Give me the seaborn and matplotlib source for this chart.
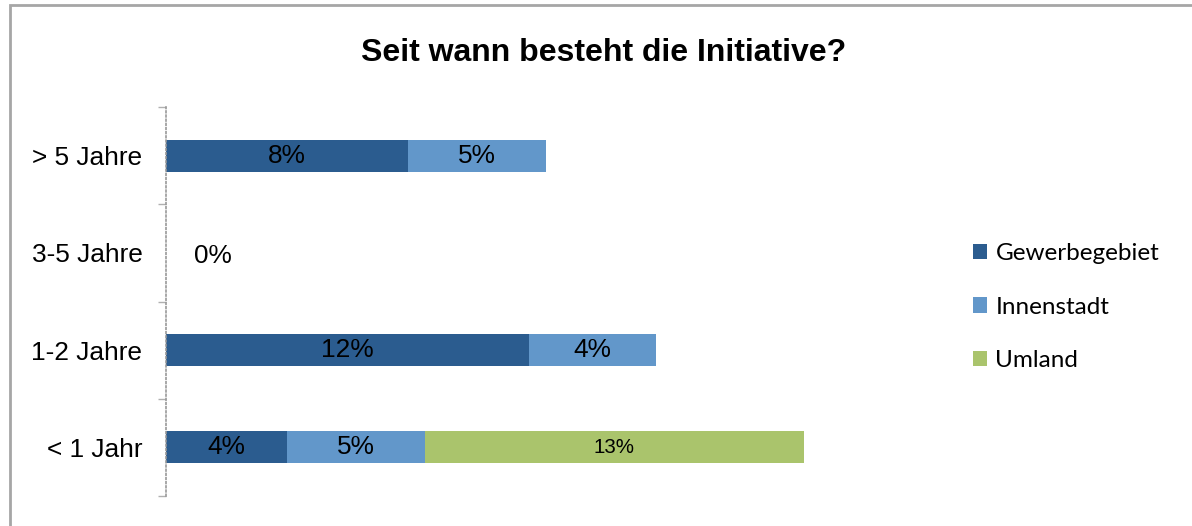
import matplotlib
matplotlib.use("Agg")
import matplotlib.pyplot as plt
import seaborn as sns
import numpy as np
import pandas as pd
from matplotlib.patches import Patch, Rectangle

# ---- data ----
categories = ["> 5 Jahre", "3-5 Jahre", "1-2 Jahre", "< 1 Jahr"]
series = ["Gewerbegebiet", "Innenstadt", "Umland"]
gewerbegebiet = [8.0, 0.0, 12.0, 4.0]
innenstadt = [4.56, 0.0, 4.2, 4.56]
umland = [0.0, 0.0, 0.0, 12.53]
colors = ["#2B5C8F", "#6297CA", "#AAC46C"]
title = "Seit wann besteht die Initiative?"

sns.set_theme(style="white")
plt.rcParams["font.family"] = ["Liberation Sans", "DejaVu Sans"]

fig = plt.figure(figsize=(11.92, 5.26), dpi=100)
ax = fig.add_axes([166 / 1192, 30 / 526, 756 / 1192, 389 / 526])

values = [gewerbegebiet, innenstadt, umland]
left = np.zeros(len(categories))
for name, vals, col in zip(series, values, colors):
    df = pd.DataFrame({"Kategorie": categories, "Anteil": vals})
    sns.barplot(data=df, x="Anteil", y="Kategorie", color=col, orient="h",
                width=0.33, left=left.copy(), ax=ax, saturation=1,
                errorbar=None, edgecolor="none")
    cont = ax.containers[-1]
    fs = 14.8 if name == "Umland" else 18.9
    labels = [f"{v:.0f}%" if v > 0 else "" for v in vals]
    texts = ax.bar_label(cont, labels=labels, label_type="center", fontsize=fs, color="black")
    left += np.array(vals)

# zero-total categories get a "0%" label
for i, tot in enumerate(left):
    if tot == 0:
        ax.annotate("0%", xy=(0, i), xytext=(47, -3), textcoords="offset pixels",
                    ha="center", va="center", fontsize=18.9, color="black")

ax.set_xlim(0, 25)
ax.set_ylim(3.5, -0.5)
ax.set_xlabel("")
ax.set_ylabel("")
for s in ["top", "right", "bottom"]:
    ax.spines[s].set_visible(False)
ax.spines["left"].set_linestyle((0, (1, 1.5)))
ax.spines["left"].set_color("#9a9a9a")
ax.spines["left"].set_linewidth(1.2)
ax.set_xticks([])
ax.tick_params(axis="y", which="major", length=0, pad=17, labelsize=18.9, labelcolor="black")
ax.set_yticks(np.arange(-0.5, 4), minor=True)
ax.tick_params(axis="y", which="minor", length=6, width=1.0, color="#b0b0b0", left=True)

fig.add_artist(Rectangle((10 / 1192, -0.5), 2, 521 / 526 + 0.5, transform=fig.transFigure,
                         fill=False, edgecolor="#a6a6a6", lw=2, clip_on=False))

fig.text(603.5 / 1192, 473 / 526, title, ha="center", va="center",
         fontsize=23, fontweight="bold", color="black")

handles = [Patch(facecolor=c, edgecolor="none", label=s) for s, c in zip(series, colors)]
fig.legend(handles=handles, loc="center left", bbox_to_anchor=(951 / 1192, 219 / 526),
           frameon=False, prop={"family": "Lato", "size": 17.5}, handlelength=0.6,
           handleheight=0.6, handletextpad=0.33, labelspacing=1.33, labelcolor="black")

fig.savefig("out.png", dpi=100)
